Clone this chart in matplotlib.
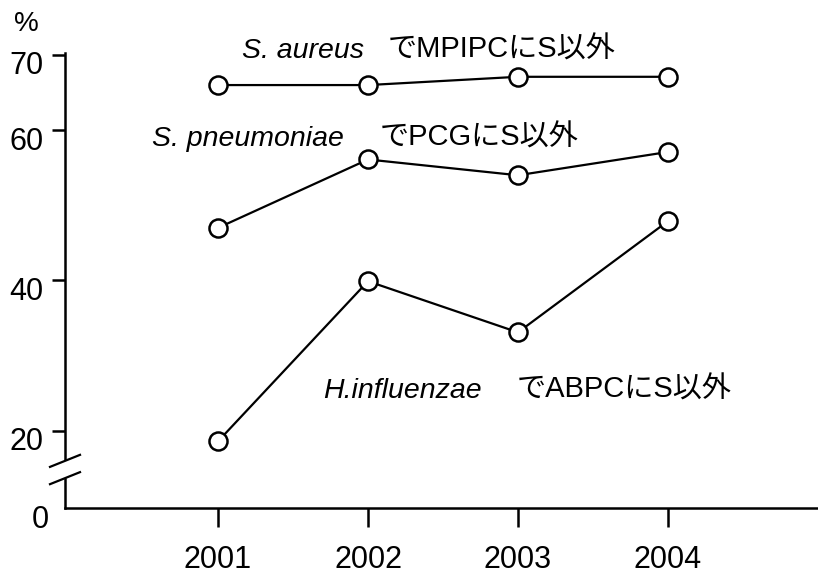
import numpy as np
import matplotlib
matplotlib.use("Agg")
import matplotlib.pyplot as plt
from matplotlib.transforms import ScaledTranslation

# Dados
anos = [2001, 2002, 2003, 2004]
s_aureus = [66.0, 66.0, 67.1, 67.1]
s_pneumoniae = [47.0, 56.1, 54.0, 57.1]
h_influenzae = [18.6, 39.9, 33.1, 47.9]
yticks = [0, 20, 40, 60, 70]

plt.rcParams["font.family"] = ["Liberation Sans", "Noto Sans CJK JP", "DejaVu Sans"]

Y0 = 9.73  # posicao do zero no eixo quebrado


# eixo y quebrado: abaixo de 12 comprime
def fwd(v):
    v = np.asarray(v, dtype=float)
    return np.where(v < 12, Y0 + v * (12 - Y0) / 12, v)


def inv(y):
    y = np.asarray(y, dtype=float)
    return np.where(y < 12, (y - Y0) * 12 / (12 - Y0), y)


fig = plt.figure(figsize=(8.18, 5.76), dpi=100)
ax = fig.add_axes([65 / 818, 68 / 576, 753 / 818, 453 / 576])
ax.set_yscale("function", functions=(fwd, inv))
ax.set_xlim(1999.98, 2005)
ax.set_ylim(0, 70)

estilo = dict(color="black", lw=1.6, marker="o", markersize=13,
              markerfacecolor="white", markeredgecolor="black", markeredgewidth=1.8)
ax.plot(anos, s_aureus, **estilo)
ax.plot(anos, s_pneumoniae, **estilo)
ax.plot(anos, h_influenzae, **estilo)

for s in ["top", "right", "left"]:
    ax.spines[s].set_visible(False)
ax.spines["bottom"].set_linewidth(1.8)

# eixo y desenhado a mao com a quebra
tr = ax.get_yaxis_transform()
ax.plot([0, 0], [70.3, 16.2], color="black", lw=1.8, transform=tr, clip_on=False)
ax.plot([0, 0], [13.6, 0], color="black", lw=1.8, transform=tr, clip_on=False)
dx = 15 / 753
for yb in [16.0, 13.7]:
    ax.plot([-dx, dx], [yb - 0.8, yb + 0.8], color="black", lw=1.6,
            transform=tr, clip_on=False)

ax.set_yticks(yticks)
ax.set_yticklabels([str(v) for v in yticks])
ax.set_xticks(anos)
ax.set_xticklabels([str(a) for a in anos])
ax.tick_params(axis="y", length=9.5, width=1.8, pad=6, labelsize=22)
ax.tick_params(axis="x", length=14, width=1.8, pad=13, labelsize=22)
ax.yaxis.get_major_ticks()[0].tick1line.set_visible(False)

# rotulos do eixo y um pouco abaixo das marcas
for i, lab in enumerate(ax.get_yticklabels()):
    dxp = 0.05 if i == 0 else 0.0
    lab.set_transform(lab.get_transform() + ScaledTranslation(dxp, -0.08, fig.dpi_scale_trans))

fig.text(26 / 818, 1 - 24 / 576, "%", fontsize=20, ha="center", va="center")

# rotulos das series
kit = dict(fontsize=20.5, style="italic", va="baseline", clip_on=False)
kjp = dict(fontsize=21, va="baseline", clip_on=False)
ax.text(2001.16, 69.65, "S. aureus", **kit)
ax.text(2002.13, 69.65, "でMPIPCにS以外", **kjp)
ax.text(2000.56, 57.95, "S. pneumoniae", **kit)
ax.text(2002.08, 57.95, "でPCGにS以外", **kjp)
ax.text(2001.70, 24.4, "H.influenzae", **kit)
ax.text(2002.99, 24.4, "でABPCにS以外", **kjp)

fig.savefig("out.png", dpi=100)
